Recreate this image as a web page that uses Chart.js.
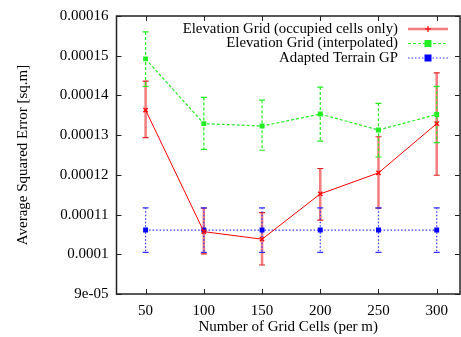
<!DOCTYPE html>
<html>
<head>
<meta charset="utf-8">
<script src="https://cdn.jsdelivr.net/npm/chart.js@4"></script>
<style>
  html, body { margin: 0; padding: 0; background: #fff; }
  #wrap { width: 461px; height: 337px; }
</style>
</head>
<body>
<div id="wrap"><canvas id="chart" width="461" height="337"></canvas></div>
<script>
// grid resolution (cells per m)
const gridCells = [50, 100, 150, 200, 250, 300];

// Elevation Grid (occupied cells only)
const occupiedMean = [0.0001363, 0.0001057, 0.0001038, 0.0001152, 0.0001205, 0.0001329];
const occupiedLow  = [0.0001294, 0.0001001, 0.0000973, 0.0001086, 0.0001116, 0.0001199];
const occupiedHigh = [0.0001436, 0.0001116, 0.0001105, 0.0001216, 0.0001296, 0.0001457];

// Elevation Grid (interpolated)
const interpMean = [0.0001492, 0.0001329, 0.0001323, 0.0001353, 0.0001313, 0.0001352];
const interpLow  = [0.0001423, 0.0001264, 0.0001262, 0.0001285, 0.0001245, 0.0001281];
const interpHigh = [0.0001560, 0.0001395, 0.0001388, 0.0001421, 0.0001380, 0.0001423];

// Adapted Terrain GP
const gpMean = [0.0001061, 0.0001061, 0.0001061, 0.0001061, 0.0001061, 0.0001061];
const gpLow  = [0.0001005, 0.0001005, 0.0001005, 0.0001005, 0.0001005, 0.0001005];
const gpHigh = [0.0001117, 0.0001117, 0.0001117, 0.0001117, 0.0001117, 0.0001117];

const seriesNames = ['Elevation Grid (occupied cells only)', 'Elevation Grid (interpolated)', 'Adapted Terrain GP'];

const xTickValues = [50, 100, 150, 200, 250, 300];
const yTickValues = [0.00009, 0.0001, 0.00011, 0.00012, 0.00013, 0.00014, 0.00015, 0.00016];
const yTickLabels = ['9e-05', '0.0001', '0.00011', '0.00012', '0.00013', '0.00014', '0.00015', '0.00016'];

const FONT = { family: '"Liberation Serif", "DejaVu Serif", serif', size: 15 };

const toPoints = (ys) => gridCells.map((x, i) => ({ x: x, y: ys[i] }));

// per-dataset error bar style (gnuplot look)
const errStyles = [
    { low: occupiedLow, high: occupiedHigh, color: '#f47c7c', width: 2.5, dash: [], cap: '#e02020' },
    { low: interpLow, high: interpHigh, color: '#22ee22', width: 1.2, dash: [3, 2], cap: '#22ee22' },
    { low: gpLow, high: gpHigh, color: '#3030ff', width: 1.2, dash: [1.5, 2], cap: '#3030ff' }
];

const errorBars = {
    id: 'errorBars',
    beforeDatasetsDraw(chart) {
        const ctx = chart.ctx;
        const xs = chart.scales.x, ys = chart.scales.y;
        errStyles.forEach((st) => {
            ctx.save();
            gridCells.forEach((gx, i) => {
                const px = xs.getPixelForValue(gx);
                const top = ys.getPixelForValue(st.high[i]);
                const bot = ys.getPixelForValue(st.low[i]);
                ctx.setLineDash(st.dash);
                ctx.strokeStyle = st.color;
                ctx.lineWidth = st.width;
                ctx.beginPath();
                ctx.moveTo(px, top);
                ctx.lineTo(px, bot);
                ctx.stroke();
                ctx.setLineDash([]);
                ctx.strokeStyle = st.cap;
                ctx.lineWidth = 1.2;
                ctx.beginPath();
                ctx.moveTo(px - 3, top); ctx.lineTo(px + 3, top);
                ctx.moveTo(px - 3, bot); ctx.lineTo(px + 3, bot);
                ctx.stroke();
            });
            ctx.restore();
        });
    }
};

// box + inward mirror ticks + gnuplot style key
const frameAndKey = {
    id: 'frameAndKey',
    afterDraw(chart) {
        const ctx = chart.ctx;
        const a = chart.chartArea;
        const xs = chart.scales.x, ys = chart.scales.y;
        ctx.save();
        ctx.strokeStyle = '#222';
        ctx.lineWidth = 1.5;
        ctx.strokeRect(a.left, a.top, a.right - a.left, a.bottom - a.top);
        ctx.lineWidth = 1;
        ctx.beginPath();
        xTickValues.forEach((v) => {
            const px = Math.round(xs.getPixelForValue(v)) + 0.5;
            ctx.moveTo(px, a.bottom); ctx.lineTo(px, a.bottom - 5);
            ctx.moveTo(px, a.top); ctx.lineTo(px, a.top + 5);
        });
        yTickValues.forEach((v) => {
            const py = Math.round(ys.getPixelForValue(v)) + 0.5;
            ctx.moveTo(a.left, py); ctx.lineTo(a.left + 5, py);
            ctx.moveTo(a.right, py); ctx.lineTo(a.right - 5, py);
        });
        ctx.stroke();

        // key
        ctx.font = '14.8px ' + FONT.family;
        ctx.fillStyle = '#000';
        ctx.textAlign = 'right';
        ctx.textBaseline = 'middle';
        const rows = [29, 43.5, 58];
        const x0 = 408, x1 = 448, xm = 428;
        chart.data.datasets.forEach((ds, i) => {
            const y = rows[i];
            ctx.fillText(seriesNames[i], 398, y);
            ctx.setLineDash(i === 0 ? [] : errStyles[i].dash);
            ctx.strokeStyle = i === 0 ? '#f47c7c' : ds.borderColor;
            ctx.lineWidth = i === 0 ? 2.5 : 1.2;
            ctx.beginPath();
            ctx.moveTo(x0, y); ctx.lineTo(x1, y);
            ctx.stroke();
            ctx.setLineDash([]);
            if (i === 0) {
                ctx.strokeStyle = '#ff0000';
                ctx.lineWidth = 1.2;
                ctx.beginPath();
                ctx.moveTo(xm - 3, y); ctx.lineTo(xm + 3, y);
                ctx.moveTo(xm, y - 3); ctx.lineTo(xm, y + 3);
                ctx.stroke();
            } else {
                ctx.fillStyle = ds.backgroundColor;
                ctx.fillRect(xm - 3.5, y - 3.5, 7, 7);
                ctx.fillStyle = '#000';
            }
        });
        ctx.restore();
    }
};

new Chart(document.getElementById('chart'), {
    type: 'line',
    data: {
        datasets: [
            {
                label: seriesNames[0],
                data: toPoints(occupiedMean),
                borderColor: '#ff0000',
                backgroundColor: '#ff0000',
                borderWidth: 1,
                pointStyle: 'crossRot',
                pointRadius: 3,
                pointBorderWidth: 1.5,
                tension: 0
            },
            {
                label: seriesNames[1],
                data: toPoints(interpMean),
                borderColor: '#22ee22',
                backgroundColor: '#22ee22',
                borderWidth: 1.2,
                borderDash: [3, 2],
                pointStyle: 'rect',
                pointRadius: 3.5,
                pointBorderWidth: 0,
                tension: 0
            },
            {
                label: seriesNames[2],
                data: toPoints(gpMean),
                borderColor: '#3030ff',
                backgroundColor: '#0000ff',
                borderWidth: 1.2,
                borderDash: [1.5, 2],
                pointStyle: 'rect',
                pointRadius: 3.5,
                pointBorderWidth: 0,
                tension: 0
            }
        ]
    },
    options: {
        responsive: false,
        animation: false,
        devicePixelRatio: 1,
        layout: { autoPadding: false, padding: { top: 16, right: 1, left: 0, bottom: 0 } },
        plugins: { legend: { display: false }, tooltip: { enabled: false } },
        scales: {
            x: {
                type: 'linear',
                min: 25,
                max: 320,
                afterBuildTicks: (s) => { s.ticks = xTickValues.map((v) => ({ value: v })); },
                afterFit: (s) => { s.height = 43; s.paddingLeft = 0; s.paddingRight = 0; },
                grid: { display: false, drawTicks: false },
                border: { display: false },
                ticks: { font: FONT, color: '#000', padding: 8, maxRotation: 0, autoSkip: false },
                title: { display: true, text: 'Number of Grid Cells (per m)', font: FONT, color: '#000', padding: { top: 0, bottom: 1 } }
            },
            y: {
                type: 'linear',
                min: 0.00009,
                max: 0.00016,
                afterBuildTicks: (s) => { s.ticks = yTickValues.map((v) => ({ value: v })); },
                afterFit: (s) => { s.width = 116.5; s.paddingTop = 0; s.paddingBottom = 0; },
                grid: { display: false, drawTicks: false },
                border: { display: false },
                ticks: { font: FONT, color: '#000', padding: 8, autoSkip: false, callback: (v, i) => yTickLabels[i] },
                title: { display: true, text: 'Average Squared Error [sq.m]', font: FONT, color: '#000', padding: { top: 14, bottom: 0 } }
            }
        }
    },
    plugins: [errorBars, frameAndKey]
});
</script>
</body>
</html>
